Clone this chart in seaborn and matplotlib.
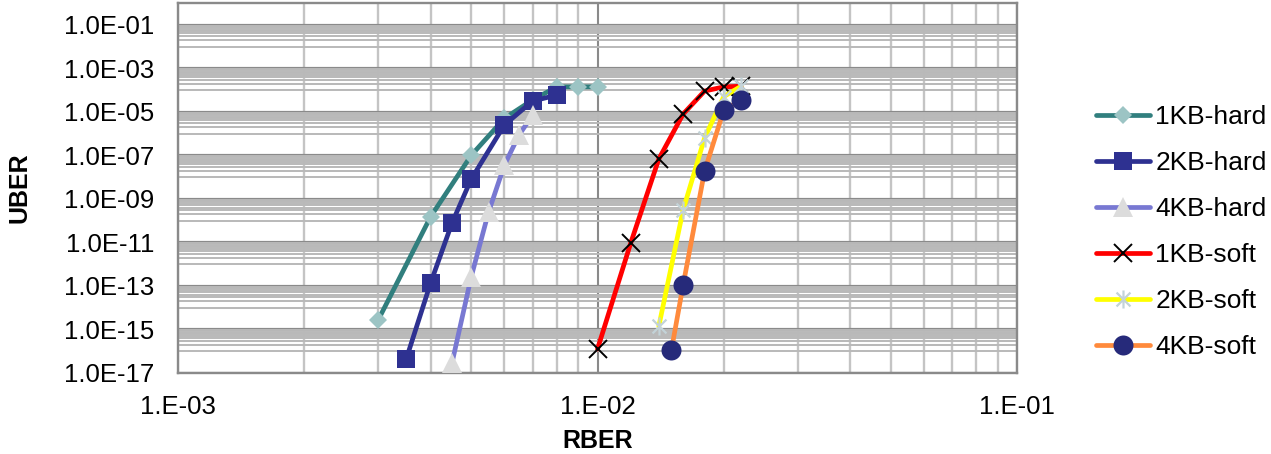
import numpy as np
import pandas as pd
import matplotlib
matplotlib.use('Agg')
import matplotlib.pyplot as plt
from matplotlib.path import Path
from matplotlib.ticker import FixedLocator, FuncFormatter, NullFormatter
import seaborn as sns

# values
rber_1kb_hard = [3.0e-3, 4.0e-3, 5.0e-3, 6.0e-3, 7.0e-3, 8.0e-3, 9.0e-3, 1.0e-2]
uber_1kb_hard = [2.7e-15, 1.5e-10, 1.0e-7, 5.0e-6, 3.5e-5, 1.4e-4, 1.4e-4, 1.4e-4]

rber_2kb_hard = [3.5e-3, 4.0e-3, 4.5e-3, 5.0e-3, 6.0e-3, 7.0e-3, 8.0e-3]
uber_2kb_hard = [4.4e-17, 1.35e-13, 7.8e-11, 8.1e-9, 2.5e-6, 3.1e-5, 5.9e-5]

rber_4kb_hard = [4.5e-3, 5.0e-3, 5.5e-3, 6.0e-3, 6.5e-3, 7.0e-3]
uber_4kb_hard = [2.9e-17, 2.6e-13, 2.5e-10, 3.6e-8, 8.6e-7, 7.0e-6]

rber_1kb_soft = [1.0e-2, 1.2e-2, 1.4e-2, 1.6e-2, 1.8e-2, 2.0e-2, 2.2e-2]
uber_1kb_soft = [1.26e-16, 9.3e-12, 6.8e-8, 7.9e-6, 9.0e-5, 1.4e-4, 1.5e-4]

rber_2kb_soft = [1.4e-2, 1.6e-2, 1.8e-2, 2.0e-2, 2.2e-2]
uber_2kb_soft = [1.4e-15, 3.1e-10, 6.3e-7, 5.0e-5, 1.5e-4]

rber_4kb_soft = [1.5e-2, 1.6e-2, 1.8e-2, 2.0e-2, 2.2e-2]
uber_4kb_soft = [1.1e-16, 1.1e-13, 1.9e-8, 1.2e-5, 3.5e-5]

series_names = ['1KB-hard', '2KB-hard', '4KB-hard', '1KB-soft', '2KB-soft', '4KB-soft']

# asterisk marker like the spreadsheet one: an x with a vertical bar
asterisk = Path([(-1, -1), (1, 1), (-1, 1), (1, -1), (0, -1.3), (0, 1.3)],
                [Path.MOVETO, Path.LINETO, Path.MOVETO, Path.LINETO, Path.MOVETO, Path.LINETO])

styles = {
    '1KB-hard': dict(color='#317f7e', marker='D', ms=9.4, mfc='#9cc4c4', mec='#9cc4c4', mew=0),
    '2KB-hard': dict(color='#2e3191', marker='s', ms=13.5, mfc='#2e3191', mec='#2e3191', mew=0),
    '4KB-hard': dict(color='#7878d2', marker='^', ms=14.0, mfc='#dcdcdc', mec='#dcdcdc', mew=0),
    '1KB-soft': dict(color='#ff0000', marker='x', ms=13.0, mfc='none', mec='#000000', mew=1.4),
    '2KB-soft': dict(color='#ffff00', marker=asterisk, ms=13.0, mfc='none', mec='#c3d3d8', mew=1.6),
    '4KB-soft': dict(color='#ff8a3c', marker='o', ms=14.4, mfc='#262a7a', mec='#262a7a', mew=0),
}

data = {
    '1KB-hard': (rber_1kb_hard, uber_1kb_hard),
    '2KB-hard': (rber_2kb_hard, uber_2kb_hard),
    '4KB-hard': (rber_4kb_hard, uber_4kb_hard),
    '1KB-soft': (rber_1kb_soft, uber_1kb_soft),
    '2KB-soft': (rber_2kb_soft, uber_2kb_soft),
    '4KB-soft': (rber_4kb_soft, uber_4kb_soft),
}

sns.set_theme(style='white')
plt.rcParams['font.family'] = ['Liberation Sans', 'DejaVu Sans']
plt.rcParams['text.color'] = 'black'
plt.rcParams['axes.labelcolor'] = 'black'

fig = plt.figure(figsize=(12.71, 4.54), dpi=100)
ax = fig.add_axes([178 / 1271, 1 - 373 / 454, (1017 - 178) / 1271, 370 / 454])

for i, name in enumerate(series_names):
    x, y = data[name]
    df = pd.DataFrame({'RBER': x, 'UBER': y})
    st = styles[name]
    sns.lineplot(data=df, x='RBER', y='UBER', ax=ax, label=name, sort=False,
                 estimator=None, color=st['color'], linewidth=3.4,
                 marker=st['marker'], markersize=st['ms'],
                 markerfacecolor=st['mfc'], markeredgecolor=st['mec'],
                 markeredgewidth=st['mew'], zorder=3 + i)

ax.set_xscale('log')
ax.set_yscale('log')
ax.set_xlim(1e-3, 1e-1)
ax.set_ylim(1e-17, 1e0)

# y: labelled lines every two decades, minor lines in the decade below each
ax.yaxis.set_major_locator(FixedLocator([10.0 ** e for e in range(-17, 0, 2)]))
ax.yaxis.set_minor_locator(FixedLocator([k * 10.0 ** e for e in range(-16, -1, 2) for k in range(1, 10)]))
ax.yaxis.set_major_formatter(FuncFormatter(lambda v, p: '1.0E-%02d' % round(-np.log10(v))))
ax.yaxis.set_minor_formatter(NullFormatter())

ax.xaxis.set_major_locator(FixedLocator([1e-3, 1e-2, 1e-1]))
ax.xaxis.set_minor_locator(FixedLocator([k * 10.0 ** e for e in (-3, -2) for k in range(2, 10)]))
ax.xaxis.set_major_formatter(FuncFormatter(lambda v, p: '1.E-%02d' % round(-np.log10(v))))
ax.xaxis.set_minor_formatter(NullFormatter())

ax.set_axisbelow(True)
ax.grid(which='major', axis='y', color='#8a8a8a', linewidth=2.3)
ax.grid(which='minor', axis='y', color='#b9b9b9', linewidth=1.4)
ax.grid(which='major', axis='x', color='#8a8a8a', linewidth=1.5)
ax.grid(which='minor', axis='x', color='#c4c4c4', linewidth=1.7)

for sp in ax.spines.values():
    sp.set_color('#8a8a8a')
    sp.set_linewidth(1.7)

ax.tick_params(axis='both', which='both', length=0, labelsize=18.5, colors='#000000')
ax.tick_params(axis='y', pad=17)
ax.tick_params(axis='x', pad=16)

ax.set_xlabel('RBER', fontsize=18, fontweight='bold')
ax.set_ylabel('UBER', fontsize=18, fontweight='bold')
ax.xaxis.label.set_va('center')
ax.yaxis.label.set_va('center')
ax.xaxis.set_label_coords(0.5, (373 - 441) / 370)
ax.yaxis.set_label_coords((19 - 178) / 839, 0.5)

ax.legend(loc='center left', bbox_to_anchor=(1096 / 1271, 1 - 232 / 454),
          bbox_transform=fig.transFigure, frameon=False, fontsize=19,
          handlelength=2.05, handletextpad=0.2, labelspacing=0.83,
          borderpad=0, borderaxespad=0)

fig.savefig('out.png', dpi=100)
